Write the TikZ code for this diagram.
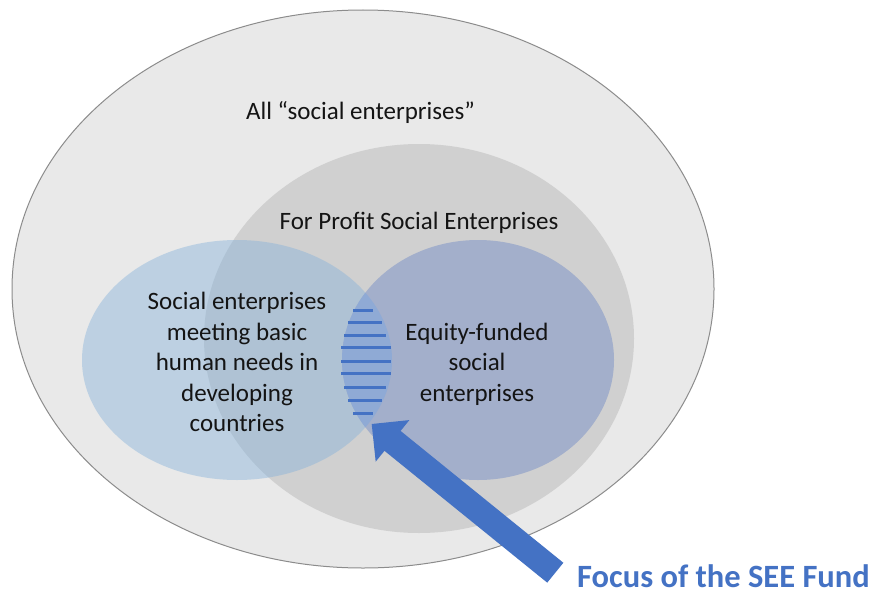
\documentclass[tikz,border=0pt]{standalone}
\usepackage{fontspec}
\setmainfont{Carlito}
\usetikzlibrary{calc}
\definecolor{outerfill}{RGB}{233,233,233}
\definecolor{outerline}{RGB}{140,140,140}
\definecolor{midfill}{RGB}{208,208,208}
\definecolor{leftfill}{RGB}{133,178,219}
\definecolor{rightfill}{RGB}{163,175,203}
\definecolor{lensfill}{RGB}{143,170,213}
\definecolor{accent}{RGB}{68,114,196}
\begin{document}
\begin{tikzpicture}[x=1pt,y=-1pt,
  lbl/.style={font=\fontsize{25}{30.5}\selectfont, inner sep=0pt, align=center, text=black!92},
  stripe/.style={draw=accent, line width=3pt},
  focuslbl/.style={font=\fontsize{32.5}{38}\selectfont\bfseries, text=accent, inner sep=0pt}]
\useasboundingbox (0,0) rectangle (880,594);
\fill[white] (0,0) rectangle (880,594);
% sets
\draw[draw=outerline, fill=outerfill, line width=1pt] (363,289) ellipse [x radius=351pt, y radius=279pt];
\fill[midfill] (419,338.5) ellipse [x radius=215pt, y radius=194.5pt];
\fill[leftfill, fill opacity=0.44] (237,360) ellipse [x radius=155pt, y radius=120pt];
\fill[rightfill] (478,360) ellipse [x radius=136pt, y radius=120pt];
% lens (intersection)
\begin{scope}
  \clip (237,360) ellipse [x radius=155pt, y radius=120pt];
  \fill[lensfill] (478,360) ellipse [x radius=136pt, y radius=120pt];
  \draw[stripe] (353,310.7) -- (373,310.7);
  \draw[stripe] (348,322.7) -- (382,322.7);
  \draw[stripe] (344,335) -- (386,335);
  \draw[stripe] (341,347.7) -- (391,347.7);
  \draw[stripe] (341,361) -- (391,361);
  \draw[stripe] (341,373.3) -- (391,373.3);
  \draw[stripe] (344,387.7) -- (386,387.7);
  \draw[stripe] (348,400.7) -- (382,400.7);
  \draw[stripe] (353,413.3) -- (373,413.3);
\end{scope}
% labels
\node[lbl, anchor=base] (all) at (360.5,119.5) {All “social enterprises”};
\node[lbl, anchor=base] (forprofit) at (419,229) {For Profit Social Enterprises};
\node[lbl] (basic) at (237,362) {Social enterprises\\meeting basic\\human needs in\\developing\\countries};
\node[lbl] (equity) at (477,364) {Equity-funded\\social\\enterprises};
\node[focuslbl, anchor=base west] (focus) at (577,587) {Focus of the SEE Fund};
% block arrow
\coordinate (tip) at (371.7,424);
\coordinate (tail) at (555.3,572.7);
\coordinate (hb) at ($(tip)!26.8pt!(tail)$);
\fill[accent] (tip) -- ($(hb)!26.75pt!90:(tip)$) -- ($(hb)!12.8pt!90:(tip)$)
  -- ($(tail)!12.8pt!90:(tip)$) -- ($(tail)!12.8pt!-90:(tip)$)
  -- ($(hb)!12.8pt!-90:(tip)$) -- ($(hb)!26.75pt!-90:(tip)$) -- cycle;
\end{tikzpicture}
\end{document}
